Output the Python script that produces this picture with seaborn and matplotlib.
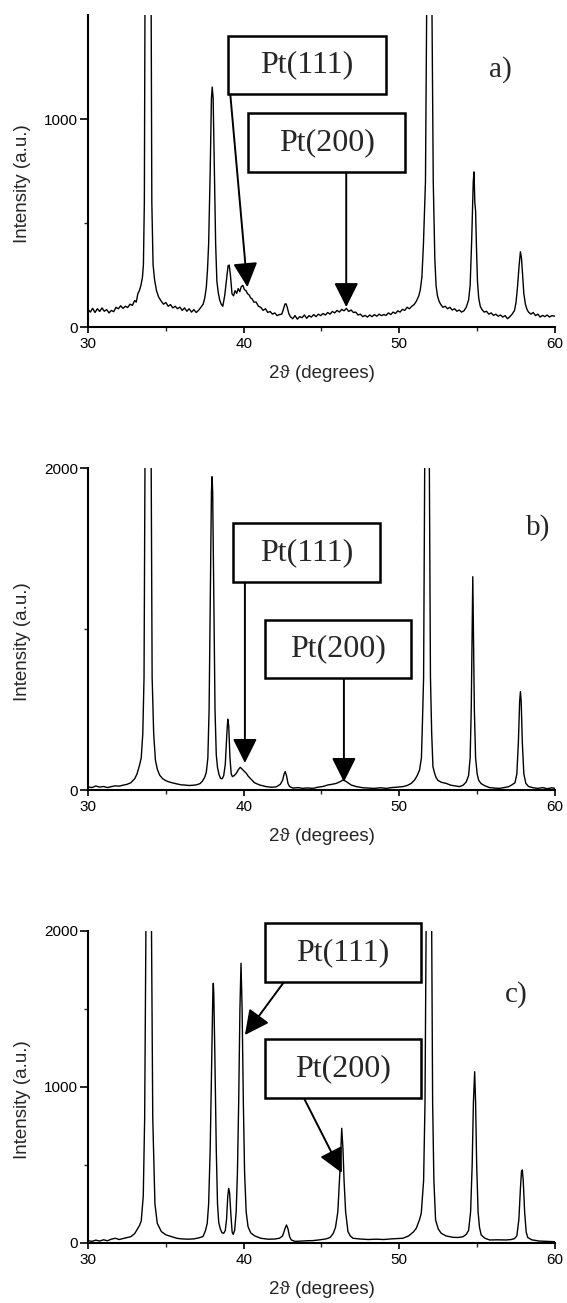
import matplotlib
matplotlib.use("Agg")
import matplotlib.pyplot as plt
from matplotlib.patches import Rectangle
from matplotlib.ticker import MultipleLocator, FixedLocator
import seaborn as sns

# ---- digitised XRD patterns (2theta in degrees, intensity in a.u.) ----
two_theta_a = [30.0, 30.15, 30.3, 30.45, 30.6, 30.75, 30.9, 31.05, 31.2, 31.35, 31.5, 31.65, 31.8, 31.95,
               32.1, 32.25, 32.4, 32.55, 32.7, 32.85, 33.0, 33.1, 33.2, 33.3, 33.4, 33.5, 33.56, 33.62,
               33.66, 33.7, 33.86, 34.02, 34.06, 34.1, 34.18, 34.28, 34.4, 34.54, 34.7, 34.85, 35.0,
               35.15, 35.3, 35.45, 35.6, 35.75, 35.9, 36.05, 36.2, 36.35, 36.5, 36.65, 36.8, 36.95,
               37.1, 37.25, 37.4, 37.5, 37.6, 37.68, 37.75, 37.85, 37.93, 37.98, 38.04, 38.12, 38.2,
               38.28, 38.36, 38.46, 38.56, 38.66, 38.78, 38.9, 39.0, 39.07, 39.15, 39.25, 39.35, 39.45,
               39.55, 39.65, 39.75, 39.85, 39.95, 40.05, 40.15, 40.25, 40.35, 40.45, 40.55, 40.65,
               40.8, 40.95, 41.1, 41.25, 41.4, 41.55, 41.7, 41.85, 42.0, 42.15, 42.3, 42.45, 42.55,
               42.65, 42.72, 42.8, 42.9, 43.0, 43.15, 43.3, 43.45, 43.6, 43.75, 43.9, 44.05, 44.2,
               44.35, 44.5, 44.65, 44.8, 44.95, 45.1, 45.25, 45.4, 45.55, 45.7, 45.85, 46.0, 46.15,
               46.3, 46.45, 46.6, 46.75, 46.9, 47.05, 47.2, 47.35, 47.5, 47.65, 47.8, 47.95, 48.1,
               48.25, 48.4, 48.55, 48.7, 48.85, 49.0, 49.15, 49.3, 49.45, 49.6, 49.75, 49.9, 50.05,
               50.2, 50.35, 50.5, 50.65, 50.8, 50.95, 51.1, 51.25, 51.35, 51.45, 51.55, 51.68, 51.76,
               51.8, 51.93, 52.06, 52.1, 52.18, 52.28, 52.36, 52.45, 52.55, 52.65, 52.8, 52.95, 53.1,
               53.25, 53.4, 53.55, 53.7, 53.85, 54.0, 54.15, 54.3, 54.45, 54.55, 54.65, 54.75, 54.8,
               54.85, 54.9, 54.95, 55.02, 55.1, 55.2, 55.3, 55.45, 55.6, 55.75, 55.9, 56.05, 56.2,
               56.35, 56.5, 56.65, 56.8, 56.95, 57.1, 57.25, 57.4, 57.5, 57.6, 57.7, 57.78, 57.85,
               57.92, 58.0, 58.1, 58.2, 58.3, 58.45, 58.6, 58.75, 58.9, 59.05, 59.2, 59.35, 59.5,
               59.65, 59.8, 60.0]
counts_a = [85, 72, 90, 70, 88, 75, 92, 76, 84, 68, 80, 74, 95, 88,
            102, 90, 100, 94, 110, 104, 128, 120, 160, 175, 200, 240, 300, 600,
            1500, 3000, 8000, 3000, 1500, 600, 300, 226, 175, 144, 125, 110, 118,
            100, 108, 92, 100, 88, 96, 80, 92, 76, 88, 72, 84, 70,
            80, 95, 110, 140, 190, 280, 400, 750, 1100, 1154, 1100, 750, 400,
            220, 170, 130, 110, 100, 150, 230, 295, 298, 250, 160, 150, 175,
            162, 185, 170, 195, 200, 180, 175, 160, 155, 140, 135, 120,
            120, 100, 95, 80, 88, 70, 75, 62, 68, 55, 60, 62, 85,
            110, 112, 95, 65, 50, 40, 55, 38, 50, 45, 58, 42, 55,
            48, 60, 50, 62, 55, 65, 58, 70, 62, 75, 68, 80, 72,
            85, 78, 90, 75, 82, 70, 72, 58, 62, 50, 56, 48, 58,
            50, 60, 52, 62, 55, 60, 56, 68, 60, 72, 65, 78, 72,
            85, 80, 95, 88, 100, 108, 125, 150, 180, 240, 400, 700, 1500,
            3000, 8000, 3000, 1500, 700, 330, 200, 150, 125, 110, 95, 100, 88,
            95, 82, 88, 76, 82, 72, 78, 95, 130, 200, 420, 700, 746,
            600, 560, 400, 220, 140, 100, 85, 72, 76, 62, 68, 56, 62,
            52, 58, 48, 55, 40, 50, 62, 80, 120, 200, 300, 362, 330,
            250, 160, 110, 85, 72, 62, 70, 55, 62, 48, 56, 50, 58,
            48, 55, 52]

two_theta_b = [30.0, 30.25, 30.5, 30.75, 31.0, 31.25, 31.5, 31.75, 32.0, 32.25, 32.5, 32.75, 33.0, 33.15,
               33.3, 33.42, 33.52, 33.6, 33.66, 33.7, 33.86, 34.02, 34.06, 34.12, 34.22, 34.33, 34.45,
               34.6, 34.8, 35.0, 35.15, 35.4, 35.7, 36.0, 36.2, 36.5, 36.8, 37.0, 37.2, 37.35, 37.5,
               37.6, 37.7, 37.78, 37.86, 37.93, 37.97, 38.01, 38.08, 38.16, 38.24, 38.32, 38.42, 38.52,
               38.62, 38.72, 38.82, 38.92, 38.98, 39.04, 39.12, 39.2, 39.28, 39.4, 39.53, 39.65, 39.78,
               39.9, 40.05, 40.17, 40.3, 40.49, 40.7, 41.03, 41.4, 41.77, 42.1, 42.35, 42.5, 42.6,
               42.67, 42.75, 42.85, 42.95, 43.17, 43.5, 43.8, 44.1, 44.45, 44.8, 45.1, 45.4, 45.7,
               45.95, 46.2, 46.38, 46.55, 46.7, 46.91, 47.2, 47.66, 48.0, 48.4, 48.8, 49.16, 49.5,
               49.9, 50.23, 50.5, 50.75, 50.98, 51.15, 51.3, 51.42, 51.48, 51.56, 51.63, 51.67, 51.78,
               51.89, 51.93, 52.0, 52.08, 52.16, 52.25, 52.35, 52.48, 52.7, 53.01, 53.3, 53.6, 53.87,
               54.1, 54.3, 54.45, 54.55, 54.62, 54.68, 54.72, 54.76, 54.82, 54.9, 55.0, 55.1, 55.25,
               55.48, 55.8, 56.1, 56.44, 56.8, 57.0, 57.2, 57.43, 57.55, 57.65, 57.73, 57.78, 57.83,
               57.9, 58.0, 58.13, 58.3, 58.6, 58.9, 59.2, 59.5, 59.8, 60.0]
counts_b = [20, 15, 25, 18, 22, 15, 21, 26, 24, 30, 35, 45, 70, 100,
            150, 200, 350, 700, 2000, 4000, 10000, 4000, 2000, 700, 350, 186, 130,
            93, 70, 58, 52, 45, 38, 32, 31, 28, 30, 33, 40, 55, 80,
            110, 200, 500, 1200, 1850, 1946, 1850, 1200, 500, 220, 140, 95, 72,
            70, 90, 160, 350, 440, 400, 200, 100, 83, 90, 104, 125, 141,
            130, 115, 104, 85, 66, 45, 31, 22, 17, 20, 35, 60, 100,
            114, 90, 40, 22, 12, 15, 10, 13, 10, 18, 22, 31, 36,
            41, 52, 62, 55, 45, 31, 22, 14, 12, 10, 14, 10, 15,
            18, 21, 28, 40, 62, 90, 124, 200, 400, 700, 2000, 4000, 10000,
            4000, 2000, 700, 350, 145, 110, 80, 60, 48, 41, 30, 25, 21,
            30, 50, 90, 200, 500, 1000, 1325, 1000, 500, 200, 100, 60, 40,
            27, 15, 12, 10, 16, 20, 30, 45, 100, 300, 550, 611, 550,
            300, 100, 41, 22, 14, 10, 15, 8, 14, 10]

two_theta_c = [30.0, 30.25, 30.5, 30.75, 31.0, 31.25, 31.5, 31.75, 32.0, 32.25, 32.5, 32.75, 33.0, 33.15,
               33.3, 33.42, 33.55, 33.64, 33.72, 33.76, 33.9, 34.04, 34.08, 34.16, 34.3, 34.45, 34.71,
               35.0, 35.35, 35.7, 36.0, 36.42, 36.8, 37.1, 37.39, 37.55, 37.66, 37.75, 37.85, 37.95,
               38.02, 38.05, 38.08, 38.15, 38.24, 38.32, 38.4, 38.5, 38.6, 38.72, 38.82, 38.9, 38.98,
               39.04, 39.1, 39.18, 39.26, 39.33, 39.42, 39.52, 39.6, 39.68, 39.76, 39.83, 39.9, 39.98,
               40.06, 40.16, 40.28, 40.45, 40.71, 41.1, 41.56, 42.0, 42.3, 42.5, 42.65, 42.75, 42.85,
               42.95, 43.06, 43.3, 43.7, 44.1, 44.45, 44.9, 45.3, 45.55, 45.75, 45.9, 46.05, 46.18,
               46.3, 46.38, 46.45, 46.55, 46.7, 46.85, 47.02, 47.5, 48.0, 48.52, 49.0, 49.5, 50.23,
               50.6, 50.9, 51.09, 51.3, 51.41, 51.56, 51.65, 51.72, 51.76, 51.9, 52.04, 52.08, 52.14,
               52.22, 52.33, 52.5, 52.69, 53.0, 53.44, 53.8, 54.1, 54.3, 54.45, 54.58, 54.68, 54.76,
               54.84, 54.9, 54.97, 55.06, 55.15, 55.26, 55.5, 55.8, 56.3, 56.87, 57.2, 57.4, 57.55,
               57.68, 57.78, 57.85, 57.9, 57.96, 58.05, 58.15, 58.25, 58.5, 59.0, 59.5, 60.0]
counts_c = [15, 10, 18, 12, 20, 14, 24, 30, 22, 28, 34, 40, 60, 85,
            110, 140, 300, 800, 2000, 4000, 10000, 4000, 2000, 800, 250, 126, 73,
            52, 41, 30, 26, 24, 26, 32, 41, 80, 126, 250, 600, 1200,
            1600, 1665, 1600, 1200, 600, 250, 130, 90, 66, 62, 80, 150, 300,
            350, 320, 180, 70, 55, 80, 200, 450, 900, 1500, 1793, 1500, 900,
            450, 200, 105, 65, 45, 30, 24, 25, 30, 45, 90, 115, 90,
            40, 19, 10, 12, 14, 15, 20, 26, 35, 60, 100, 200, 450,
            735, 600, 400, 200, 73, 45, 30, 25, 22, 24, 22, 26, 30,
            45, 70, 94, 150, 190, 400, 900, 2000, 4000, 10000, 4000, 2000, 900,
            400, 147, 90, 62, 45, 36, 35, 40, 55, 80, 200, 500, 900,
            1098, 900, 500, 200, 100, 51, 30, 19, 20, 19, 22, 28, 45,
            150, 350, 460, 468, 400, 200, 70, 35, 20, 12, 10, 8]

panel_labels = ["a)", "b)", "c)"]
y_tops = [1500, 2000, 2000]
y_majors = [[0, 1000], [0, 2000], [0, 1000, 2000]]
y_minors = [[500], [1000], [500, 1500]]

# annotation layout (data coordinates of each panel)
boxes = [
    [("Pt(111)", 39.01, 49.12, 1120, 1399), ("Pt(200)", 40.30, 50.35, 745, 1029)],
    [("Pt(111)", 39.31, 48.75, 1292, 1658), ("Pt(200)", 41.37, 50.75, 696, 1056)],
    [("Pt(111)", 41.37, 51.39, 1673, 2051), ("Pt(200)", 41.37, 51.39, 929, 1308)],
]
arrows = [
    [((39.14, 1120), (40.24, 192)), ((46.59, 745), (46.59, 96))],
    [((40.08, 1292), (40.08, 168)), ((46.44, 696), (46.44, 50))],
    [((42.59, 1673), (40.08, 1333)), ((43.87, 929), (46.31, 449))],
]
label_pos = [(56.5, 1236), (58.9, 1633), (57.5, 1590)]

# axes rectangles in figure fractions
axes_rects = [
    [0.1552, 0.7490, 0.8236, 0.2394],
    [0.1552, 0.3937, 0.8236, 0.2471],
    [0.1552, 0.0461, 0.8236, 0.2394],
]

sns.set_style("ticks")
plt.rcParams["font.family"] = ["Liberation Sans", "DejaVu Sans"]

fig = plt.figure(figsize=(5.67, 13.03), dpi=100)
data = [(two_theta_a, counts_a), (two_theta_b, counts_b), (two_theta_c, counts_c)]

for i, (xs, ys) in enumerate(data):
    ax = fig.add_axes(axes_rects[i])
    sns.lineplot(x=xs, y=ys, ax=ax, color="black", linewidth=1.0,
                 estimator=None, sort=False)
    ax.set_xlim(30, 60)
    ax.set_ylim(0, y_tops[i])
    sns.despine(ax=ax)
    for side in ["left", "bottom"]:
        ax.spines[side].set_linewidth(1.5)
        ax.spines[side].set_color("black")

    ax.xaxis.set_major_locator(MultipleLocator(10))
    ax.xaxis.set_minor_locator(MultipleLocator(5))
    ax.yaxis.set_major_locator(FixedLocator(y_majors[i]))
    ax.yaxis.set_minor_locator(FixedLocator(y_minors[i]))
    ax.tick_params(axis="x", which="major", length=4, width=1.2, pad=3.5,
                   labelsize=11, colors="black")
    ax.tick_params(axis="x", which="minor", length=3, width=1.0)
    ax.tick_params(axis="y", which="major", length=6, width=1.2, pad=1,
                   labelsize=11, colors="black")
    ax.tick_params(axis="y", which="minor", length=3, width=1.0)

    ax.set_xlabel("2\u03d1 (degrees)", fontsize=13.5, labelpad=10)
    ax.set_ylabel("Intensity (a.u.)", fontsize=13.5)
    ax.yaxis.set_label_coords(-0.122, 0.46)

    for text, x0, x1, y0, y1 in boxes[i]:
        ax.add_patch(Rectangle((x0, y0), x1 - x0, y1 - y0, facecolor="white",
                               edgecolor="black", lw=1.8, clip_on=False, zorder=5))
        ax.text((x0 + x1) / 2, (y0 + y1) / 2, text, ha="center", va="center",
                fontsize=23, family="Liberation Serif", zorder=6)

    for start, tip in arrows[i]:
        ax.annotate("", xy=tip, xytext=start, annotation_clip=False,
                    arrowprops=dict(arrowstyle="-|>,head_length=1.5,head_width=0.75",
                                    color="black", lw=1.4, shrinkA=0, shrinkB=0,
                                    mutation_scale=10))

    ax.text(label_pos[i][0], label_pos[i][1], panel_labels[i], ha="center",
            va="center", fontsize=21, family="Liberation Serif")

fig.savefig("out.png", dpi=100)
